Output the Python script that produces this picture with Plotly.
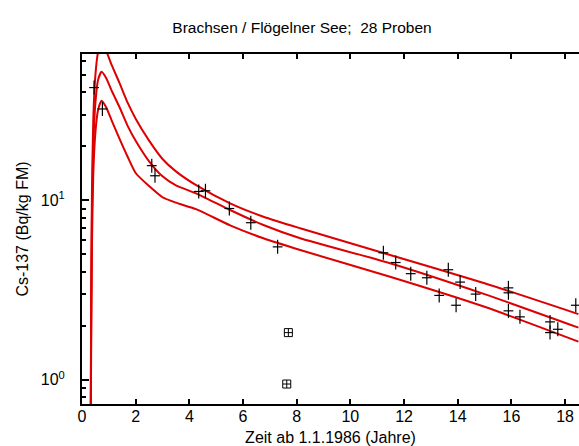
import plotly.graph_objects as go

# Messwerte (Zeit in Jahren ab 1.1.1986, Cs-137 in Bq/kg FM)
t_mess = [0.45, 0.76, 2.60, 2.72, 4.35, 4.60, 5.49, 6.29, 7.29,
          11.23, 11.69, 12.25, 12.85, 13.31, 13.65, 13.94, 14.09,
          14.67, 15.89, 15.89, 15.89, 16.32, 17.44, 17.44, 17.73, 18.40]
cs_mess = [42.5, 32.3, 15.6, 13.7, 11.2, 11.3, 9.0, 7.5, 5.5,
           5.1, 4.5, 3.9, 3.7, 2.95, 4.1, 2.6, 3.5,
           3.0, 3.25, 3.05, 2.42, 2.24, 2.1, 1.83, 1.91, 2.6]

# nicht berücksichtigte Werte
t_aus = [7.69, 7.63]
cs_aus = [1.83, 0.946]

# Modellkurve mit oberem und unterem Vertrauensband
t_kurve = [0.322, 0.34, 0.37, 0.42, 0.5, 0.6, 0.73, 0.9, 1.1, 1.4, 1.7,
           2.0, 2.5, 3.0, 3.5, 4.27, 5.52, 6.76, 8.13, 11.48, 15.0, 18.5]
cs_mitte = [0.4, 2.0, 8.0, 20, 35, 47, 52, 48, 41, 33, 26,
            21.5, 16.5, 13.6, 12.1, 10.9, 8.83, 7.28, 6.14, 4.46, 3.0, 1.95]
cs_oben = [0.4, 2.6, 11, 28, 50, 67, 74, 68, 57, 45, 35,
           28.5, 21.5, 17, 14.5, 12.1, 9.62, 8.1, 6.98, 4.96, 3.45, 2.32]
cs_unten = [0.4, 1.4, 5.5, 14, 24, 32, 35.9, 33, 28, 22, 17.5,
            14.2, 12.0, 10.4, 9.7, 8.9, 7.25, 6.14, 5.28, 3.75, 2.55, 1.63]

ROT = "#dd0000"
fig = go.Figure()
for werte in (cs_oben, cs_mitte, cs_unten):
    fig.add_trace(go.Scatter(x=t_kurve, y=werte, mode="lines",
                             line=dict(color=ROT, width=2, shape="spline", smoothing=0.6),
                             hoverinfo="skip"))
# Kreuze: senkrechter und waagrechter Strich
fig.add_trace(go.Scatter(x=t_mess, y=cs_mess, mode="markers",
                         marker=dict(symbol="line-ns", size=10,
                                     line=dict(color="black", width=1.2))))
fig.add_trace(go.Scatter(x=t_mess, y=cs_mess, mode="markers",
                         marker=dict(symbol="line-ew", size=7,
                                     line=dict(color="black", width=1.2))))
fig.add_trace(go.Scatter(x=t_aus, y=cs_aus, mode="markers",
                         marker=dict(symbol="square-cross-open", size=8, color="black",
                                     line=dict(color="black", width=1))))

schrift = "Liberation Sans, Arial, sans-serif"
fig.update_layout(
    width=579, height=446,
    margin=dict(l=82, r=0, t=54, b=42),
    paper_bgcolor="white", plot_bgcolor="white",
    showlegend=False,
    font=dict(family=schrift, color="black"),
    title=dict(text="Brachsen / Flögelner See;  28 Proben",
               x=302 / 579, xanchor="center", y=1 - 28 / 446, yanchor="middle",
               font=dict(size=15.5, family=schrift, color="black")),
    xaxis=dict(range=[0, 18.52], tickvals=list(range(0, 20, 2)),
               ticks="inside", ticklen=5, tickwidth=1.5, tickcolor="black",
               showline=True, linecolor="black", linewidth=2, mirror="ticks",
               showgrid=False, zeroline=False,
               tickfont=dict(size=16), ticklabelstandoff=-3,
               title=dict(text="Zeit ab 1.1.1986 (Jahre)", font=dict(size=16), standoff=8)),
    yaxis=dict(type="log", range=[-0.1355, 1.8155],
               tickvals=[1, 10], ticktext=["10<sup>0</sup>", "10<sup>1</sup>"],
               ticks="inside", ticklen=7, tickwidth=1.5, tickcolor="black",
               showline=True, linecolor="black", linewidth=2,
               showgrid=False, zeroline=False,
               tickfont=dict(size=16), ticklabelstandoff=12,
               minor=dict(tickvals=[0.8, 0.9, 2, 3, 4, 5, 6, 7, 8, 9, 20, 30, 40, 50, 60],
                          ticks="inside", ticklen=4, tickwidth=1.5, tickcolor="black",
                          showgrid=False),
               title=dict(text="Cs-137 (Bq/kg FM)", font=dict(size=16), standoff=8)),
)
fig.write_html("out.html")
